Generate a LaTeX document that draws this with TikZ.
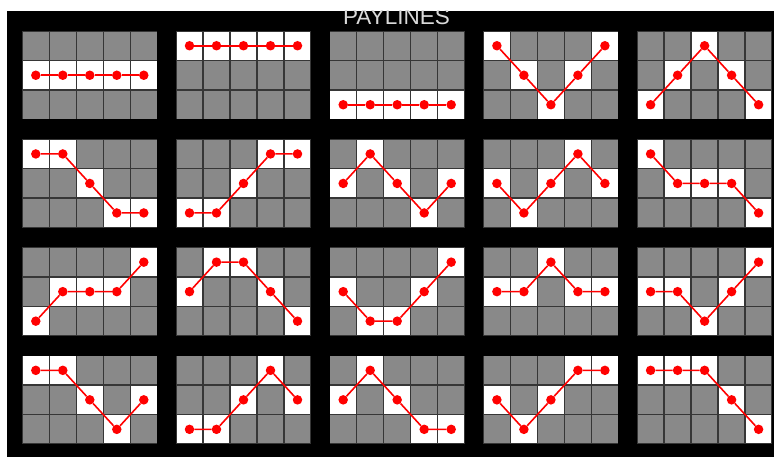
\documentclass[tikz,border=0pt]{standalone}
\usepackage{fontspec}
\setmainfont{Liberation Sans}
\usepackage{tikz}
\definecolor{reelgray}{HTML}{898989}
\definecolor{seam}{HTML}{363636}
\definecolor{headgray}{HTML}{DADADA}

\begin{document}
\begin{tikzpicture}[x=1pt,y=-1pt,
  reeldot/.style={circle,fill=red,inner sep=0pt,minimum size=9.5pt},
  payline/.style={red,line width=1.6pt}]
\useasboundingbox (0,0) rectangle (774,457);
\fill[white] (0,0) rectangle (774,457);
\fill[black] (7,11) rectangle (774,457);
\begin{scope}
\clip (7,11) rectangle (774,457);
\node[text=headgray,font=\fontsize{22.5}{24}\selectfont,anchor=base] (heading) at (396.5,25) {PAYLINES};
\end{scope}
% one panel per payline, rows of the symbol per reel (0 = top)
\foreach \a/\b/\c/\d/\e [count=\i from 0] in {1/1/1/1/1,0/0/0/0/0,2/2/2/2/2,0/1/2/1/0,2/1/0/1/2,
  0/0/1/2/2,2/2/1/0/0,1/0/1/2/1,1/2/1/0/1,0/1/1/1/2,
  2/1/1/1/0,1/0/0/1/2,1/2/2/1/0,1/1/0/1/1,1/1/2/1/0,
  0/0/1/2/1,2/2/1/0/1,1/0/1/2/2,1/2/1/0/0,0/0/0/1/2}{
\pgfmathsetmacro\px{22.3+153.7*mod(\i,5)}
\pgfmathsetmacro\py{31+108.2*floor(\i/5)}
\fill[seam] (\px,\py) rectangle +(135,88.5);
\foreach \k in {0,...,4}\foreach \r in {0,1,2}
  \fill[reelgray] (\px+27*\k+.75,\py+29.5*\r+.75) rectangle +(25.5,28);
\foreach \r [count=\k from 0] in {\a,\b,\c,\d,\e}{
  \fill[white] (\px+27*\k+.75,\py+29.5*\r+.75) rectangle +(25.5,28);
  \node[reeldot] (p\i-\k) at (\px+27*\k+13.5,\py+29.5*\r+14.75) {};}
\draw[payline] (p\i-0)--(p\i-1)--(p\i-2)--(p\i-3)--(p\i-4);
}
\end{tikzpicture}
\end{document}
